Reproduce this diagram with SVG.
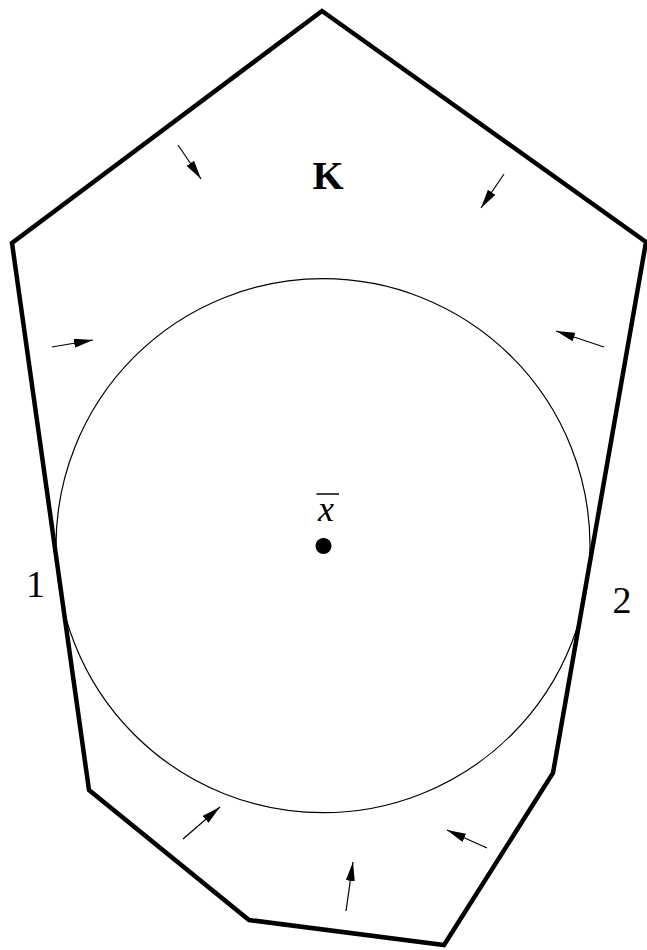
<svg xmlns="http://www.w3.org/2000/svg" width="647" height="950" viewBox="0 0 647 950">
<style>
.body{fill:none;stroke:#000;stroke-width:4.5;stroke-linejoin:miter}
.thin{fill:none;stroke:#000;stroke-width:1.2}
.arr{fill:none;stroke:#000;stroke-width:1.2;marker-end:url(#ah)}
.lbl{font-family:"Liberation Serif","Times New Roman",serif;fill:#000}
</style>
<defs>
<marker id="ah" viewBox="0 0 19 9" refX="19" refY="4.5" markerWidth="19" markerHeight="9" markerUnits="userSpaceOnUse" orient="auto">
<path d="M0,0 L19,4.5 L0,9 Z" fill="#000"/>
</marker>
</defs>
<rect width="647" height="950" fill="#fff"/>
<g id="setK">
<polygon class="body" points="322,11 646,242 553,773 444,945 249,920 89,790 12,243"/>
<text class="lbl" x="328" y="189" font-size="40" font-weight="bold" text-anchor="middle">K</text>
</g>
<g id="ball">
<circle class="thin" cx="323" cy="545.7" r="267"/>
</g>
<g id="center">
<circle cx="323.5" cy="546" r="8" fill="#000"/>
<line x1="316.5" y1="494" x2="339" y2="494" stroke="#000" stroke-width="1.5"/>
<text class="lbl" x="326" y="521" font-size="36" font-style="italic" text-anchor="middle">x</text>
</g>
<g id="labels">
<text class="lbl" x="35.5" y="596.5" font-size="38" text-anchor="middle">1</text>
<text class="lbl" x="622" y="612.5" font-size="38" text-anchor="middle">2</text>
</g>
<g id="connectors">
<line class="arr" x1="178" y1="145" x2="201" y2="179"/>
<line class="arr" x1="504" y1="174" x2="481" y2="208"/>
<line class="arr" x1="52" y1="347" x2="93" y2="340"/>
<line class="arr" x1="604" y1="347" x2="556" y2="331"/>
<line class="arr" x1="183" y1="839" x2="220" y2="807"/>
<line class="arr" x1="346" y1="911" x2="353" y2="862"/>
<line class="arr" x1="487" y1="848" x2="447" y2="830"/>
</g>
</svg>
